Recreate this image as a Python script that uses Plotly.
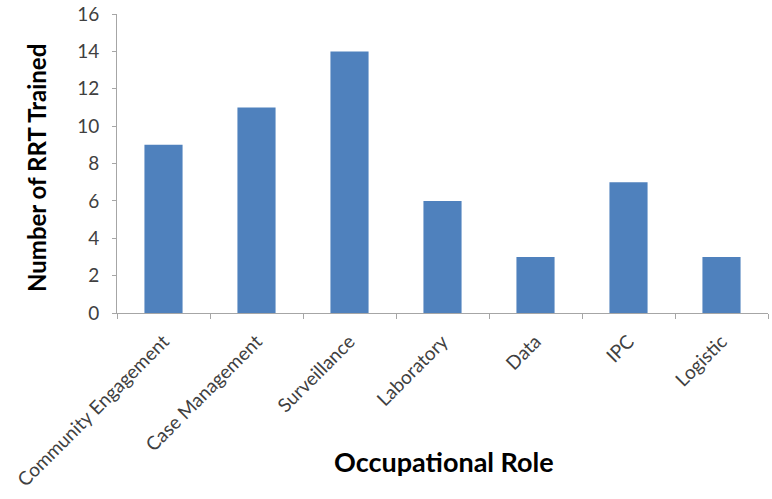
import plotly.graph_objects as go

categories = ["Community Engagement", "Case Management", "Surveillance", "Laboratory", "Data", "IPC", "Logistic"]
values = [9, 11, 14, 6, 3, 7, 3]
y_ticks = [0, 2, 4, 6, 8, 10, 12, 14, 16]

FONT = "Lato, Open Sans, sans-serif"

W, H = 772, 499
L, R, T, B = 117, 4, 14, 186
PW, PH = W - L - R, H - T - B

fig = go.Figure(go.Bar(x=categories, y=values, marker_color="#4F81BD", marker_line_width=0))

fig.update_layout(
    width=W, height=H,
    margin=dict(l=L, r=R, t=T, b=B, autoexpand=False),
    plot_bgcolor="white", paper_bgcolor="white",
    bargap=0.59, showlegend=False,
    font=dict(family=FONT),
)
fig.update_xaxes(
    automargin=False,
    showline=True, linecolor="#A6A6A6", linewidth=1,
    ticks="outside", tickson="boundaries", ticklen=5, tickcolor="#A6A6A6",
    tickangle=-45, tickfont=dict(size=19, color="#404040"), ticklabelstandoff=9,
    showgrid=False,
)
fig.update_yaxes(
    automargin=False,
    range=[0, 16], tickvals=y_ticks, showline=True, linecolor="#A6A6A6", linewidth=1,
    ticks="outside", ticklen=4, tickcolor="#A6A6A6",
    tickfont=dict(size=19, color="#404040"), ticklabelstandoff=9,
    ticklabeloverflow="allow",
    showgrid=False, zeroline=False,
)
fig.add_annotation(text="<b>Occupational Role</b>", xref="paper", yref="paper",
                   x=(444 - L) / PW, y=-149 / PH, xanchor="center", yanchor="middle",
                   showarrow=False, font=dict(size=27, color="#000000", family=FONT))
fig.add_annotation(text="<b>Number of RRT Trained</b>", xref="paper", yref="paper",
                   x=-81 / PW, y=(313 - 168) / PH, xanchor="center", yanchor="middle",
                   textangle=-90, showarrow=False,
                   font=dict(size=24, color="#000000", family=FONT))
fig.write_html("out.html", config={"displayModeBar": False},
               post_script="document.body.style.margin='0';")
